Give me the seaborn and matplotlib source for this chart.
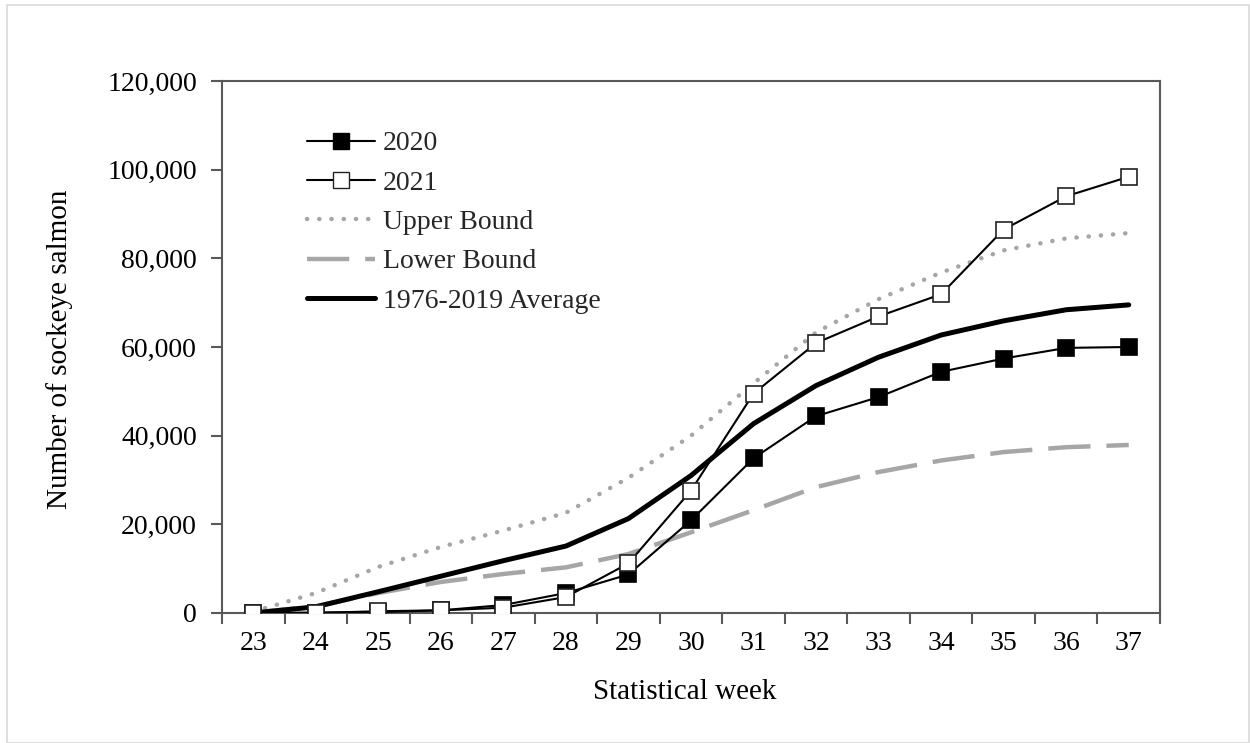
import matplotlib
matplotlib.use("Agg")
import matplotlib.pyplot as plt
import matplotlib.ticker as mticker
from matplotlib.patches import Rectangle
from matplotlib.lines import Line2D
import seaborn as sns
import pandas as pd

weeks = [23, 24, 25, 26, 27, 28, 29, 30, 31, 32, 33, 34, 35, 36, 37]
y2020 = [0, 100, 200, 600, 1800, 4500, 8700, 20900, 34900, 44400, 48700, 54400, 57400, 59800, 60000]
y2021 = [0, 0, 400, 600, 1200, 3600, 11200, 27600, 49500, 60900, 66900, 71900, 86500, 94000, 98400]
upper = [300, 4500, 10400, 14900, 18600, 22600, 30500, 40000, 51800, 63300, 70800, 76800, 81800, 84500, 85700]
lower = [100, 1500, 4500, 7000, 8800, 10300, 13300, 18200, 23200, 28400, 31800, 34400, 36300, 37400, 37900]
average = [0, 1400, 4800, 8300, 11800, 15100, 21300, 31000, 42700, 51300, 57700, 62700, 65900, 68400, 69500]
labels = ["2020", "2021", "Upper Bound", "Lower Bound", "1976-2019 Average"]

sns.set_theme(style="white")
plt.rcParams["font.family"] = ["Liberation Serif", "DejaVu Serif"]

fig = plt.figure(figsize=(12.5, 7.43), dpi=100)
W, H = 1250, 743
L, R, T, B = 222, 1160, 81, 613
ax = fig.add_axes([L / W, 1 - B / H, (R - L) / W, (B - T) / H])

df = pd.DataFrame({"week": weeks, "y2020": y2020, "y2021": y2021,
                   "upper": upper, "lower": lower, "average": average})

grey = "#a6a6a6"
sns.lineplot(data=df, x="week", y="upper", ax=ax, color=grey, lw=3.2, zorder=2)
ax.lines[-1].set_dashes((0.05, 2.7))
ax.lines[-1].set_dash_capstyle("round")
sns.lineplot(data=df, x="week", y="lower", ax=ax, color=grey, lw=3.2, zorder=2)
ax.lines[-1].set_dashes((9.5, 3.6))
sns.lineplot(data=df, x="week", y="average", ax=ax, color="black", lw=3.6, zorder=3)
sns.lineplot(data=df, x="week", y="y2020", ax=ax, color="black", lw=1.5,
             marker="s", markersize=11.5, markerfacecolor="black",
             markeredgecolor="black", markeredgewidth=1.2, zorder=4)
sns.lineplot(data=df, x="week", y="y2021", ax=ax, color="black", lw=1.5,
             marker="s", markersize=11.5, markerfacecolor="white",
             markeredgecolor="#222222", markeredgewidth=1.2, zorder=5)

ax.set_xlim(weeks[0] - 0.5, weeks[-1] + 0.5)
ax.set_ylim(0, 120000)
ax.set_xticks([w - 0.5 for w in weeks] + [weeks[-1] + 0.5])
ax.set_xticklabels([])
ax.set_xticks(weeks, minor=True)
ax.set_xticklabels([str(w) for w in weeks], minor=True)
ax.set_yticks(range(0, 120001, 20000))
ax.yaxis.set_major_formatter(mticker.FuncFormatter(lambda v, p: f"{int(v):,}"))

spine_c = "#595959"
for s in ax.spines.values():
    s.set_color(spine_c)
    s.set_linewidth(1.5)
ax.tick_params(axis="both", which="major", direction="out", length=8,
               width=1.5, color=spine_c, labelsize=20, labelcolor="black")
ax.tick_params(axis="x", which="major", bottom=True)
ax.tick_params(axis="y", which="major", left=True, pad=10)
ax.tick_params(axis="x", which="minor", length=0, labelsize=20, pad=13,
               labelcolor="black")

ax.set_xlabel("Statistical week", fontsize=21, color="black", va="center")
ax.set_ylabel("Number of sockeye salmon", fontsize=21, color="black", va="center")
ax.xaxis.set_label_coords((685 - L) / (R - L), (B - 692) / (B - T))
ax.yaxis.set_label_coords((60 - L) / (R - L), (B - 349) / (B - T))

handles = [
    Line2D([], [], color="black", lw=1.5, marker="s", markersize=11.5,
           markerfacecolor="black", markeredgecolor="black"),
    Line2D([], [], color="black", lw=1.5, marker="s", markersize=11.5,
           markerfacecolor="white", markeredgecolor="#222222"),
    Line2D([], [], color=grey, lw=3.2, dashes=(0.05, 2.7), dash_capstyle="round"),
    Line2D([], [], color=grey, lw=3.2, dashes=(9.5, 3.6)),
    Line2D([], [], color="black", lw=3.6),
]
leg = ax.legend(handles, labels, loc="upper left",
                bbox_to_anchor=(307 / W, 1 - 131 / H),
                bbox_transform=fig.transFigure, frameon=False,
                fontsize=20, handlelength=2.45, handletextpad=0.29,
                labelspacing=0.5, borderpad=0, borderaxespad=0, numpoints=1)

fig.patches.append(Rectangle((7 / W, 0), 1 - 7 / W - 0.0005, 1 - 5 / H,
                             transform=fig.transFigure, fill=False,
                             edgecolor="#d9d9d9", lw=1.2))

fig.savefig("out.png", dpi=100)
